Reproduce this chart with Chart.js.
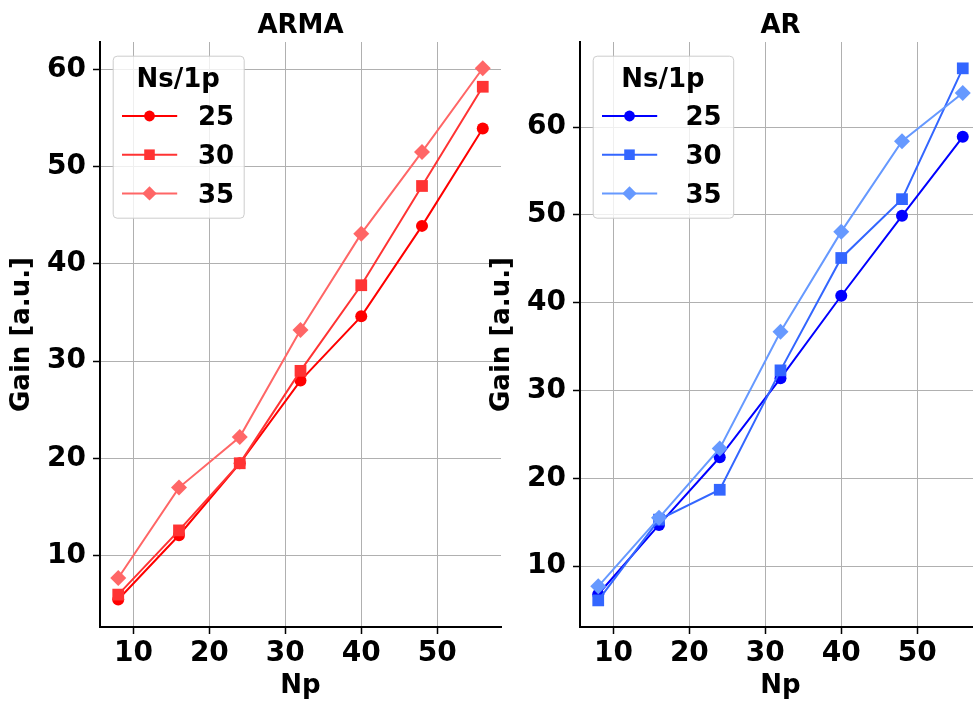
<!DOCTYPE html>
<html>
<head>
<meta charset="utf-8">
<script src="https://cdn.jsdelivr.net/npm/chart.js@4.4.1/dist/chart.umd.min.js"></script>
<style>
  html, body { margin: 0; padding: 0; background: #ffffff; width: 973px; height: 702px; overflow: hidden; }
  .wrap { position: absolute; top: 0; width: 510px; height: 702px; }
  #wrapL { left: 0; }
  #wrapR { left: 480px; }
</style>
</head>
<body>
<div class="wrap" id="wrapL"><canvas id="cL" width="510" height="702"></canvas></div>
<div class="wrap" id="wrapR"><canvas id="cR" width="510" height="702"></canvas></div>
<script>
// ---- data ----
const npValues = [8, 16, 24, 32, 40, 48, 56];
const seriesLabels = ['25', '30', '35'];
const armaNs25 = [5.5, 12.1, 19.5, 28.0, 34.6, 43.9, 53.9];
const armaNs30 = [6.0, 12.6, 19.5, 29.0, 37.8, 48.0, 58.2];
const armaNs35 = [7.7, 17.0, 22.2, 33.2, 43.1, 51.5, 60.1];
const arNs25 = [6.8, 14.7, 22.4, 31.4, 40.8, 49.9, 58.9];
const arNs30 = [6.1, 15.3, 18.7, 32.3, 45.1, 51.8, 66.7];
const arNs35 = [7.7, 15.5, 23.4, 36.7, 48.1, 58.4, 63.9];
const xTickValues = [10, 20, 30, 40, 50];
const yTickValues = [10, 20, 30, 40, 50, 60];

const FONT = "'DejaVu Sans', sans-serif";
const redColors = ['#ff0000', '#ff3333', '#ff6666'];
const blueColors = ['#0000ff', '#3366ff', '#6699ff'];
const markerStyles = ['circle', 'rect', 'rectRot'];
const markerRadii = [6, 8.3, 8];

function toPoints(ys) { return npValues.map((x, i) => ({ x: x, y: ys[i] })); }

function makeDatasets(seriesList, colors) {
  return seriesList.map((ys, i) => ({
    label: seriesLabels[i],
    data: toPoints(ys),
    borderColor: colors[i],
    backgroundColor: colors[i],
    pointBackgroundColor: colors[i],
    pointBorderColor: colors[i],
    pointBorderWidth: 0,
    borderWidth: 2,
    pointStyle: markerStyles[i],
    pointRadius: markerRadii[i],
    pointHoverRadius: markerRadii[i],
    tension: 0,
    order: 3 - i,
    clip: false
  }));
}

function drawMarker(ctx, style, r, x, y, color) {
  ctx.save();
  ctx.fillStyle = color;
  ctx.beginPath();
  if (style === 'circle') {
    ctx.arc(x, y, r, 0, Math.PI * 2);
  } else if (style === 'rect') {
    const s = r * Math.SQRT1_2;
    ctx.rect(x - s, y - s, 2 * s, 2 * s);
  } else {
    ctx.moveTo(x - r, y); ctx.lineTo(x, y - r); ctx.lineTo(x + r, y); ctx.lineTo(x, y + r); ctx.closePath();
  }
  ctx.fill();
  ctx.restore();
}

const panelTitle = {
  id: 'panelTitle',
  afterDraw(chart, args, opts) {
    const ctx = chart.ctx;
    const ca = chart.chartArea;
    ctx.save();
    ctx.fillStyle = '#000000';
    ctx.font = "bold 26px " + FONT;
    ctx.textAlign = 'center';
    ctx.textBaseline = 'alphabetic';
    ctx.fillText(opts.text, (ca.left + ca.right) / 2, 33);
    ctx.restore();
  }
};

const boxLegend = {
  id: 'boxLegend',
  afterDatasetsDraw(chart, args, opts) {
    const ctx = chart.ctx;
    const ca = chart.chartArea;
    const left = ca.left + opts.dx, top = ca.top + opts.dy;
    const w = opts.w, h = opts.h;
    ctx.save();
    ctx.beginPath();
    if (ctx.roundRect) ctx.roundRect(left + 0.5, top + 0.5, w, h, 4); else ctx.rect(left + 0.5, top + 0.5, w, h);
    ctx.fillStyle = 'rgba(255,255,255,0.8)';
    ctx.fill();
    ctx.strokeStyle = '#cccccc';
    ctx.lineWidth = 1;
    ctx.stroke();
    ctx.fillStyle = '#000000';
    ctx.font = "bold 26px " + FONT;
    ctx.textAlign = 'center';
    ctx.textBaseline = 'alphabetic';
    ctx.fillText(opts.title, left + w / 2, top + 31.3);
    chart.data.datasets.forEach((ds, i) => {
      const yc = top + 60.3 + i * 38.7;
      ctx.strokeStyle = ds.borderColor;
      ctx.lineWidth = 2;
      ctx.beginPath();
      ctx.moveTo(left + 9.3, yc);
      ctx.lineTo(left + 64.5, yc);
      ctx.stroke();
      drawMarker(ctx, ds.pointStyle, ds.pointRadius * 0.9, left + 36.8, yc, ds.borderColor);
      ctx.fillStyle = '#000000';
      ctx.font = "bold 26px " + FONT;
      ctx.textBaseline = 'alphabetic';
      ctx.textAlign = opts.rightAlign ? 'right' : 'left';
      ctx.fillText(ds.label, left + opts.labelX, yc + 9.3);
    });
    ctx.restore();
  }
};

function makeChart(canvasId, title, datasets, yMin, yMax, legendOpts) {
  return new Chart(document.getElementById(canvasId), {
    type: 'line',
    data: { datasets: datasets },
    plugins: [boxLegend, panelTitle],
    options: {
      responsive: false,
      animation: false,
      devicePixelRatio: 1,
      layout: { padding: { left: 0, right: 9, top: 42, bottom: 0 } },
      plugins: {
        legend: { display: false },
        tooltip: { enabled: false },
        title: { display: false },
        panelTitle: { text: title },
        boxLegend: legendOpts
      },
      scales: {
        x: {
          type: 'linear', min: 5.6, max: 58.4,
          afterFit: s => { s.height = 75; },
          afterBuildTicks: s => { s.ticks = xTickValues.map(v => ({ value: v })); },
          ticks: { stepSize: 10, includeBounds: false, color: '#000000', padding: 3, maxRotation: 0,
                   font: { family: FONT, size: 28, weight: 'bold' } },
          grid: { color: '#b0b0b0', lineWidth: 1, tickColor: '#000000', tickLength: 7, tickWidth: 1.5 },
          border: { color: '#000000', width: 2 },
          title: { display: true, text: 'Np', color: '#000000', font: { family: FONT, size: 26, weight: 'bold' },
                   padding: { top: 0, bottom: 0.4 } }
        },
        y: {
          type: 'linear', min: yMin, max: yMax,
          afterFit: s => { s.width = 100; },
          afterBuildTicks: s => { s.ticks = yTickValues.map(v => ({ value: v })); },
          ticks: { stepSize: 10, includeBounds: false, color: '#000000', padding: 7,
                   font: { family: FONT, size: 28, weight: 'bold' } },
          grid: { color: '#b0b0b0', lineWidth: 1, tickColor: '#000000', tickLength: 7, tickWidth: 1.5 },
          border: { color: '#000000', width: 2 },
          title: { display: true, text: 'Gain [a.u.]', color: '#000000', font: { family: FONT, size: 26, weight: 'bold' },
                   padding: { top: 6.9, bottom: 0 } }
        }
      }
    }
  });
}

makeChart('cL', 'ARMA', makeDatasets([armaNs25, armaNs30, armaNs35], redColors), 2.67, 62.8,
  { title: 'Ns/1p', dx: 12.7, dy: 13.7, w: 131, h: 162, labelX: 85.3, rightAlign: false });
makeChart('cR', 'AR', makeDatasets([arNs25, arNs30, arNs35], blueColors), 3.07, 69.7,
  { title: 'Ns/1p', dx: 12.7, dy: 13.7, w: 140.5, h: 162, labelX: 129, rightAlign: true });
</script>
</body>
</html>
